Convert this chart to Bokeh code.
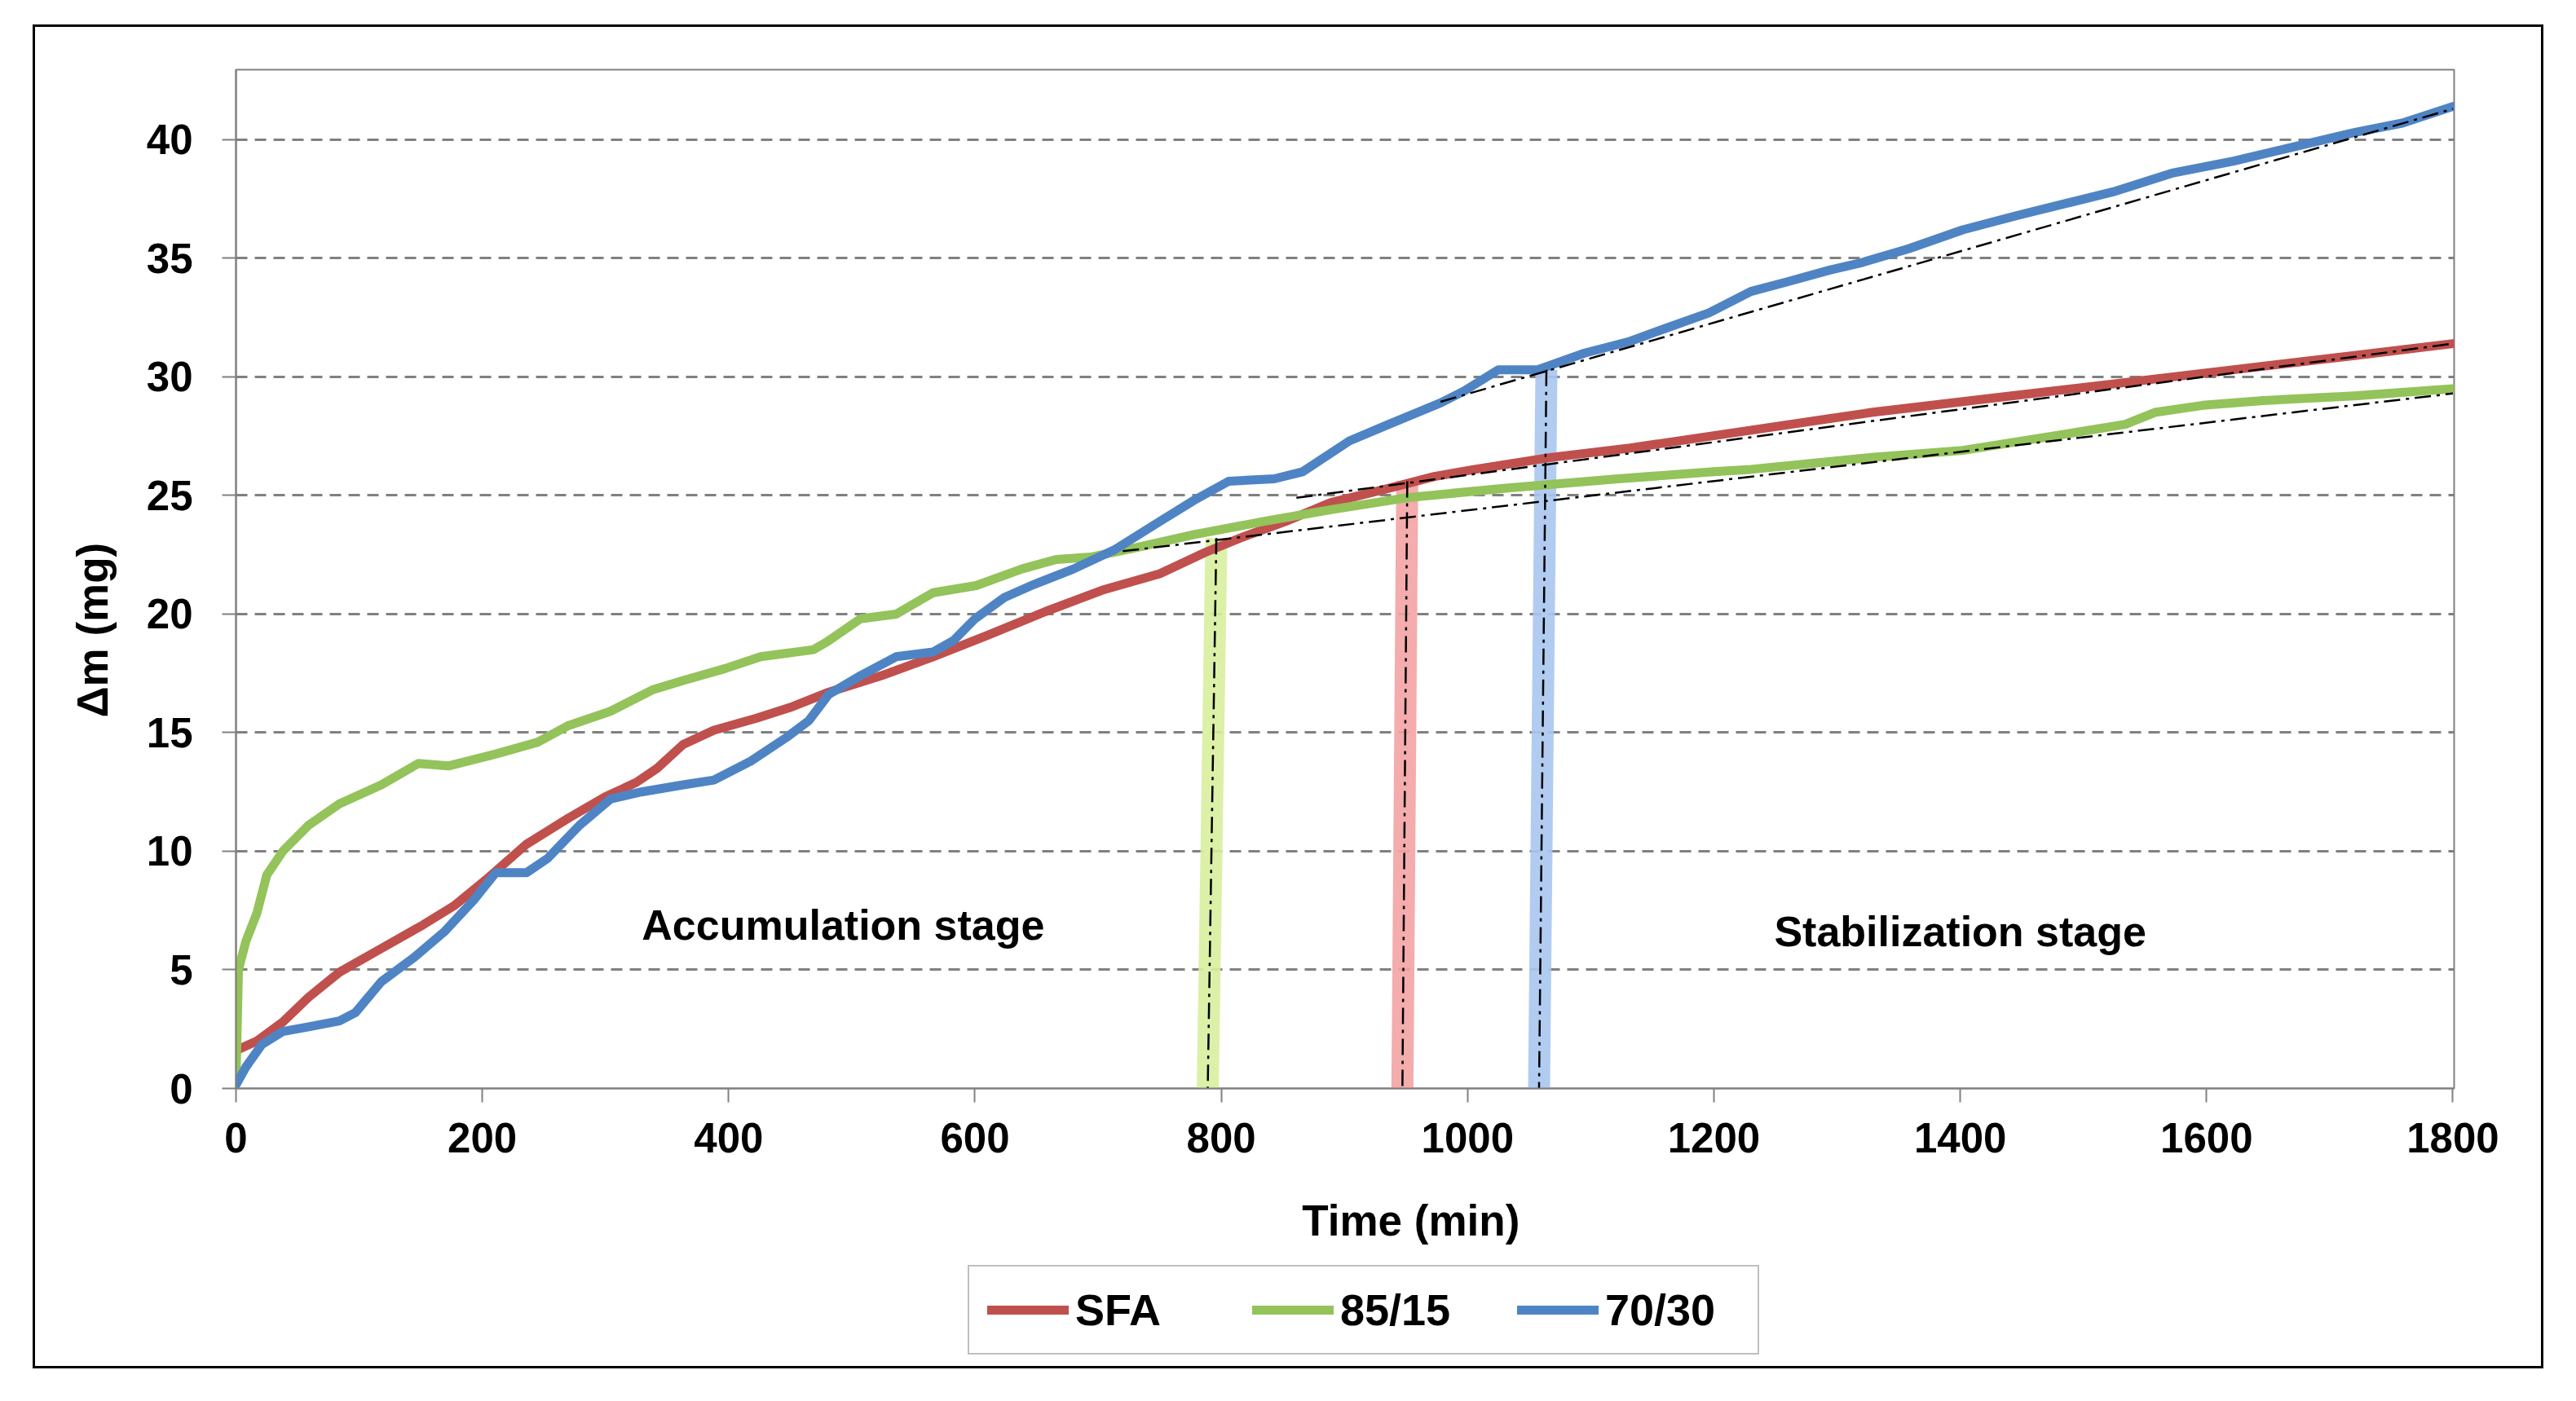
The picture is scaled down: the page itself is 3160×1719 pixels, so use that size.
import numpy as np
from bokeh.plotting import figure
from bokeh.layouts import column
from bokeh.models import Range1d, Label, Legend, LegendItem, FixedTicker, Title
from bokeh.embed import file_html
from bokeh.resources import INLINE

# ---------------- data ----------------
sfa_t = [0, 17, 38, 59, 84, 118, 152, 177, 203, 236, 270, 300, 325, 342, 363, 388, 422, 452, 481,
         524, 566, 610, 657, 703, 750, 787, 815, 852, 889, 936, 973, 1006, 1067, 1132, 1230, 1328,
         1426, 1524, 1622, 1720, 1800]
sfa_v = [1.6, 2.0, 2.8, 3.85, 4.9, 5.9, 6.9, 7.7, 8.8, 10.3, 11.4, 12.3, 12.9, 13.5, 14.5, 15.1, 15.6,
         16.1, 16.7, 17.4, 18.2, 19.1, 20.1, 21.0, 21.7, 22.6, 23.2, 23.9, 24.7, 25.3, 25.8, 26.1,
         26.6, 27.0, 27.75, 28.5, 29.1, 29.7, 30.3, 30.9, 31.4]

g85_t = [0, 2, 8, 17, 25, 38, 59, 84, 118, 148, 173, 211, 245, 270, 304, 338, 363, 397, 426, 469,
         479, 507, 536, 566, 601, 638, 666, 694, 731, 778, 834, 889, 950, 1029, 1122, 1200, 1230,
         1328, 1402, 1475, 1534, 1558, 1597, 1646, 1720, 1800]
g85_v = [0.3, 5.0, 6.2, 7.4, 9.0, 10.0, 11.1, 12.0, 12.8, 13.7, 13.6, 14.1, 14.6, 15.3, 15.9, 16.8,
         17.2, 17.7, 18.2, 18.5, 18.8, 19.8, 20.0, 20.9, 21.2, 21.9, 22.3, 22.4, 22.8, 23.35, 23.9,
         24.4, 24.9, 25.3, 25.7, 26.0, 26.1, 26.6, 26.9, 27.5, 28.0, 28.5, 28.8, 29.0, 29.2, 29.5]

b70_t = [0, 8, 21, 38, 59, 84, 97, 118, 144, 169, 194, 211, 236, 253, 279, 304, 329, 363, 388, 418,
         447, 465, 481, 507, 536, 566, 583, 600, 624, 648, 680, 713, 750, 778, 806, 843, 866, 904,
         936, 978, 997, 1025, 1057, 1095, 1132, 1161, 1196, 1230, 1259, 1294, 1319, 1358, 1402,
         1446, 1485, 1524, 1573, 1622, 1671, 1720, 1759, 1800]
b70_v = [0.15, 0.9, 1.85, 2.4, 2.6, 2.85, 3.2, 4.5, 5.5, 6.6, 8.0, 9.1, 9.1, 9.7, 11.1, 12.2, 12.5,
         12.8, 13.0, 13.8, 14.8, 15.5, 16.6, 17.4, 18.2, 18.4, 18.9, 19.8, 20.7, 21.25, 21.9, 22.7,
         23.9, 24.8, 25.6, 25.7, 26.0, 27.3, 28.0, 28.9, 29.4, 30.3, 30.3, 31.0, 31.5, 32.05, 32.7,
         33.6, 34.0, 34.5, 34.8, 35.4, 36.2, 36.8, 37.3, 37.8, 38.6, 39.1, 39.7, 40.3, 40.7, 41.4]

# stabilization-stage fit lines (start, end)
sfa_fit_t = [861, 1800]
sfa_fit_v = [24.9, 31.4]
g85_fit_t = [720, 1800]
g85_fit_v = [22.65, 29.3]
b70_fit_t = [978, 1800]
b70_fit_v = [28.95, 41.3]

# transition markers (top, bottom)
sfa_mark_t = [951, 947]
sfa_mark_v = [25.6, -0.4]
g85_mark_t = [796, 789]
g85_mark_v = [23.2, 0]
b70_mark_t = [1064, 1058]
b70_mark_v = [30.3, 0]

series_names = ["SFA", "85/15", "70/30"]
y_ticks = [0, 5, 10, 15, 20, 25, 30, 35, 40]
x_ticks = [0, 200, 400, 600, 800, 1000, 1200, 1400, 1600, 1800]

# ---------------- styling ----------------
FONT = "Liberation Sans"
RED, GREEN, BLUE = "#C0504D", "#93C35A", "#4F84C4"
RED_BAND, GREEN_BAND, BLUE_BAND = "#F3A3A3", "#D8EE9E", "#A8C6EE"
GRAY = "#808080"
W = 3074

p = figure(width=W, height=1412, output_backend="svg", toolbar_location=None,
           x_range=Range1d(0, 1801), y_range=Range1d(0, 42.95),
           min_border_left=246, min_border_right=107, min_border_top=52, min_border_bottom=110)
p.title.visible = False
p.background_fill_color = "white"
p.border_fill_alpha = 0
p.outline_line_color = GRAY
p.outline_line_width = 2

p.xgrid.visible = False
p.ygrid.ticker = FixedTicker(ticks=y_ticks)
p.ygrid.grid_line_color = GRAY
p.ygrid.grid_line_width = 3
p.ygrid.grid_line_dash = "14 9"

for ax in (p.xaxis[0], p.yaxis[0]):
    ax.axis_line_color = GRAY
    ax.axis_line_width = 2
    ax.major_tick_line_color = GRAY
    ax.major_tick_line_width = 2
    ax.major_tick_in = 0
    ax.minor_tick_line_color = None
    ax.major_label_text_font = FONT
    ax.major_label_text_font_style = "bold"
    ax.major_label_text_font_size = "51px"
    ax.major_label_text_color = "black"

p.xaxis.ticker = FixedTicker(ticks=x_ticks)
p.xaxis.major_tick_out = 17
p.xaxis.major_label_standoff = 25
p.yaxis.ticker = FixedTicker(ticks=y_ticks)
p.yaxis.major_tick_out = 17
p.yaxis.major_label_standoff = 36

ytitle = Title(text="\u0394m (mg)", align="left", offset=455, standoff=67,
               text_font=FONT, text_font_style="bold", text_font_size="53px", text_color="black")
p.add_layout(ytitle, "left")

# transition bands
for t, v, c in ((g85_mark_t, g85_mark_v, GREEN_BAND), (sfa_mark_t, sfa_mark_v, RED_BAND),
                (b70_mark_t, b70_mark_v, BLUE_BAND)):
    p.line(t, v, line_color=c, line_width=27, line_alpha=0.9)

# data curves
for t, v, c in ((sfa_t, sfa_v, RED), (g85_t, g85_v, GREEN), (b70_t, b70_v, BLUE)):
    p.line(t, v, line_color=c, line_width=11, line_cap="round", line_join="round")

# dash-dot construction lines
for t, v in ((g85_fit_t, g85_fit_v), (sfa_fit_t, sfa_fit_v), (b70_fit_t, b70_fit_v),
             (g85_mark_t, g85_mark_v), (sfa_mark_t, sfa_mark_v), (b70_mark_t, b70_mark_v)):
    p.line(t, v, line_color="black", line_width=2.5, line_dash="20 7 4 7")

# stage annotations
for txt, x, y in (("Accumulation stage", 493, 6.9), ("Stabilization stage", 1400, 6.6)):
    p.add_layout(Label(x=x, y=y, text=txt, text_font=FONT, text_font_style="bold",
                       text_font_size="52px", text_align="center", text_baseline="middle",
                       text_color="black"))

# ---------- lower strip (frame aligned with the main plot): x-axis title and legend ----------
H2 = 231
q = figure(width=W, height=H2, output_backend="svg", toolbar_location=None,
           x_range=p.x_range, y_range=Range1d(0, H2),
           x_axis_location=None, y_axis_location=None, min_border=0)
q.title.visible = False
q.grid.visible = False
q.outline_line_color = None
q.background_fill_alpha = 0
q.border_fill_alpha = 0

q.add_layout(Label(x=954, y=179, text="Time (min)", text_font=FONT, text_font_style="bold",
                   text_font_size="53px", text_align="center", text_baseline="middle",
                   text_color="black"))

# hidden copies of the series provide the legend swatches
leg_r = [q.line(t, v, line_color=c, line_width=11, line_cap="round", visible=False)
         for t, v, c in ((sfa_t, sfa_v, RED), (g85_t, g85_v, GREEN), (b70_t, b70_v, BLUE))]
legend = Legend(items=[LegendItem(label=n, renderers=[r]) for n, r in zip(series_names, leg_r)],
                orientation="horizontal", location=(898, 14))
legend.padding = 22
legend.spacing = 52
legend.glyph_width = 100
legend.glyph_height = 40
legend.label_standoff = 8
legend.label_width = 165
legend.label_text_font = FONT
legend.label_text_font_style = "bold"
legend.label_text_font_size = "54px"
legend.label_text_color = "black"
legend.border_line_color = GRAY
legend.border_line_width = 2
legend.background_fill_alpha = 0
legend.margin = 0
q.add_layout(legend, "center")

lay = column(p, q, spacing=0)
lay.margin = (30, 0, 0, 40)
lay.styles = {"border": "3px solid black"}

open("out.html", "w").write(file_html(lay, INLINE))
